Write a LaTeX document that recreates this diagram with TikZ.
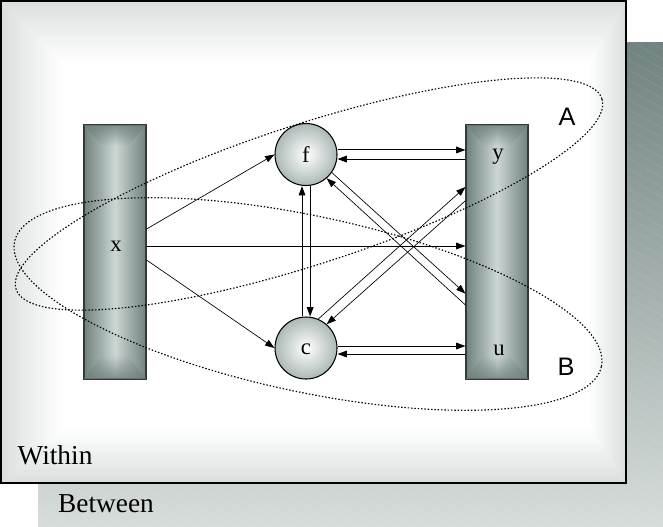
\documentclass[tikz,border=0pt]{standalone}
\usepackage{fontspec}
\setmainfont{Liberation Serif}
\newfontfamily\arialfont{Liberation Sans}
\usetikzlibrary{arrows.meta,calc,fadings}

\definecolor{edgegray}{RGB}{218,224,222}
\definecolor{backtop}{RGB}{112,131,128}
\definecolor{backbot}{RGB}{214,220,218}
\definecolor{bardark}{RGB}{112,129,126}
\definecolor{barlight}{RGB}{204,215,212}
\definecolor{barline}{RGB}{50,58,56}
\definecolor{circedge}{RGB}{172,185,182}

\tikzfading[name=fadetop, top color=transparent!15, bottom color=transparent!100]
\tikzfading[name=fadebottom, top color=transparent!100, bottom color=transparent!15]

\tikzset{
  bar/.style={draw=barline, line width=0.8pt, inner sep=0pt,
    minimum width=46.5pt, minimum height=190.5pt,
    left color=bardark, right color=bardark, middle color=barlight},
  circ/.style={circle, draw=black, line width=0.8pt, inner sep=0pt,
    minimum size=46.5pt, shading=radial, inner color=white, outer color=circedge},
  lbl/.style={inner sep=0pt, font=\fontsize{17}{19}\selectfont},
  biglbl/.style={inner sep=0pt, font=\fontsize{20.5}{24}\selectfont},
  grp/.style={inner sep=0pt, font=\arialfont\fontsize{19}{22}\selectfont},
  dotline/.style={line width=0.85pt, dash pattern=on 1.1pt off 1.4pt},
  arr/.style={-{Triangle[length=7pt,width=5pt]}, line width=0.75pt},
  thinarr/.style={-{Triangle[length=7pt,width=5pt]}, line width=0.5pt},
}

\begin{document}
\begin{tikzpicture}[x=0.75pt,y=-0.75pt]
\useasboundingbox (0,0) rectangle (663,526);

% back box (Between)
\shade[top color=backtop, bottom color=backbot] (38,42) rectangle (663,526);
\begin{scope}
  \clip (38,42) rectangle (663,526);
  \foreach \k in {-70,...,40}
    \draw[white, opacity=0.08, line width=0.6pt] (38+\k*18,42) -- ++(1000,550);
\end{scope}

% front box (Within) with soft grey edges
\foreach \i in {0,...,20} {
  \pgfmathtruncatemacro\m{5*\i}
  \fill[white!\m!edgegray] (1+3*\i,1+3*\i) rectangle (626-1.8*\i,483-2.7*\i);
}
\draw[line width=1.2pt] (1,1) rectangle (626,483);

% bars
\node[bar] (xbar) at (115,252) {};
\node[bar] (yubar) at (497,252) {};
\foreach \b in {xbar,yubar} {
  \fill[bardark, path fading=fadetop]
    (\b.north west) -- (\b.north east) -- ([xshift=-14pt,yshift=-16pt]\b.north east)
    -- ([xshift=14pt,yshift=-16pt]\b.north west) -- cycle;
  \fill[bardark, path fading=fadebottom]
    (\b.south west) -- (\b.south east) -- ([xshift=-14pt,yshift=18pt]\b.south east)
    -- ([xshift=14pt,yshift=18pt]\b.south west) -- cycle;
  \draw[barline, line width=0.8pt] (\b.north west) rectangle (\b.south east);
}

% groups
\draw[dotline, rotate around={18:(309,194)}] (309,194) ellipse [x radius=231pt, y radius=52.5pt];
\draw[dotline, rotate around={-12:(308,304)}] (308,304) ellipse [x radius=225pt, y radius=66pt];

% circles
\node[circ] (f) at (306,154.5) {};
\node[circ] (c) at (306,348) {};

% labels
\node[lbl] (xl) at (116,246) {x};
\node[lbl] (fl) at (306,155) {f};
\node[lbl] (cl) at (306,349) {c};
\node[lbl] (yl) at (498,157) {y};
\node[lbl] (ul) at (499,350) {u};
\node[grp] (A) at (567,117) {A};
\node[grp] (B) at (566,367) {B};
\node[biglbl] (within) at (55,455) {Within};
\node[biglbl] (between) at (106,504) {Between};

% connectors
\draw[thinarr] ([yshift=17.25pt]xbar.east) -- (f.west);
\draw[arr] ([yshift=4.5pt]xbar.east) -- ([yshift=4.5pt]xbar.east -| yubar.west);
\draw[thinarr] ([yshift=-6pt]xbar.east) -- (c.west);

\draw[arr] ([yshift=3.4pt]f.east) -- ([yshift=3.4pt]f.east -| yubar.west);
\draw[arr] ([yshift=-3.4pt]f.east -| yubar.west) -- ([yshift=-3.4pt]f.east);
\draw[arr] ([yshift=1.5pt]c.east) -- ([yshift=1.5pt]c.east -| yubar.west);
\draw[arr] ([yshift=-4.5pt]c.east -| yubar.west) -- ([yshift=-4.5pt]c.east);

\draw[arr] ([xshift=-3pt]c.north) -- ([xshift=-3pt]f.south);
\draw[arr] ([xshift=3.1pt]f.south) -- ([xshift=3.1pt]c.north);

\draw[thinarr] (f.-35) -- ([yshift=-31.2pt]yubar.west);
\draw[thinarr] ([yshift=-39.75pt]yubar.west) -- (f.-49);
\draw[thinarr] (c.67) -- ([yshift=48.75pt]yubar.west);
\draw[thinarr] ([yshift=38.5pt]yubar.west) -- (c.49);
\end{tikzpicture}
\end{document}
